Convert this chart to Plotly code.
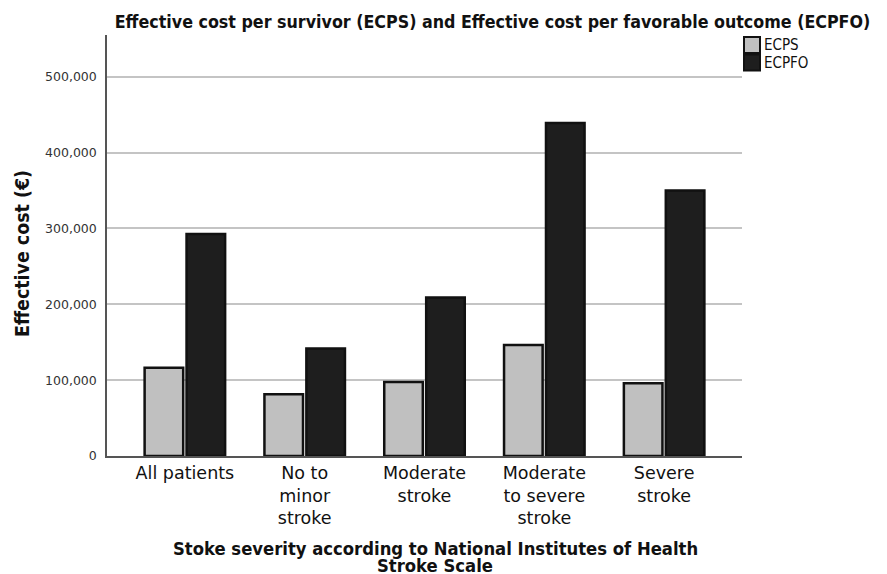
import plotly.graph_objects as go

categories = ["All patients", "No to<br>minor<br>stroke", "Moderate<br>stroke",
              "Moderate<br>to severe<br>stroke", "Severe<br>stroke"]
ecps = [116500, 81400, 97600, 146400, 95900]
ecpfo = [292500, 141600, 208800, 438900, 350000]
y_ticks = [0, 100000, 200000, 300000, 400000, 500000]
series_names = ["ECPS", "ECPFO"]
series_colors = ["#c0c0c0", "#1e1e1e"]

font = "DejaVu Sans, Verdana, sans-serif"
cond = "DejaVu Sans Condensed, DejaVu Sans, sans-serif"

OFF = 8  # page body margin offset in the screenshot
W, H = 887 - OFF, 574 - OFF
L = 107 - OFF
T = 35 - OFF
R = W - (742 - OFF)
B = H - (456 - OFF)
ph = H - T - B
pw = W - L - R


def py(y):
    """screenshot y -> paper y"""
    return (H - B - (y - OFF)) / ph


def px(x):
    """screenshot x -> paper x"""
    return ((x - OFF) - L) / pw


fig = go.Figure()
for name, vals, col in zip(series_names, [ecps, ecpfo], series_colors):
    fig.add_trace(go.Bar(x=categories, y=vals, name=name, showlegend=False,
                         marker=dict(color=col, line=dict(color="#111111", width=2.5))))

# custom legend (square swatches like the reference)
shapes = []
annotations = []
for i, (name, col) in enumerate(zip(series_names, series_colors)):
    y0 = 37 + i * 17.5
    shapes.append(dict(type="rect", xref="paper", yref="paper",
                       x0=px(744), x1=px(760), y0=py(y0), y1=py(y0 + 16),
                       fillcolor=col, line=dict(color="#111111", width=2)))
    annotations.append(dict(text=name, xref="paper", yref="paper",
                            x=px(762), y=py(y0 + 8), xanchor="left", yanchor="middle",
                            showarrow=False, font=dict(family=cond, size=15, color="#111111")))

# axis titles
annotations.append(dict(text="<b>Effective cost (€)</b>", xref="paper", yref="paper",
                        x=px(23), y=py(254), textangle=-90, showarrow=False,
                        xanchor="center", yanchor="middle",
                        font=dict(family=cond, size=19.4, color="#111111")))
annotations.append(dict(text="<b>Stoke severity according to National Institutes of Health</b>",
                        xref="paper", yref="paper", x=px(435), y=py(548),
                        xanchor="center", yanchor="middle", showarrow=False,
                        font=dict(family=cond, size=18.3, color="#111111")))
annotations.append(dict(text="<b>Stroke Scale</b>",
                        xref="paper", yref="paper", x=px(435), y=py(565),
                        xanchor="center", yanchor="middle", showarrow=False,
                        font=dict(family=cond, size=18.3, color="#111111")))

fig.update_layout(
    width=W, height=H,
    margin=dict(l=L, r=R, t=T, b=B),
    plot_bgcolor="white", paper_bgcolor="white",
    barmode="group", bargap=0.3, bargroupgap=0.08,
    showlegend=False,
    title=dict(text="<b>Effective cost per survivor (ECPS) and Effective cost per favorable outcome (ECPFO)</b>",
               font=dict(family=cond, size=17.7, color="#111111"),
               x=(492.5 - OFF) / W, xref="container", xanchor="center",
               y=1 - (22 - OFF) / H, yref="container", yanchor="middle"),
    xaxis=dict(showline=True, linecolor="#555555", linewidth=1.5,
               tickfont=dict(family=font, size=17.5, color="#111111"),
               ticks="", range=[-0.65, 4.65], automargin=False),
    yaxis=dict(showline=True, linecolor="#555555", linewidth=1.5,
               range=[0, 555000], tickvals=y_ticks, tickformat=",",
               tickfont=dict(family=font, size=12.5, color="#333333"),
               showgrid=True, gridcolor="#c4c4c4", gridwidth=1.5,
               zeroline=False, ticks="", ticklabelstandoff=6, automargin=False),
    shapes=shapes,
    annotations=annotations,
)

fig.write_html("out.html")
